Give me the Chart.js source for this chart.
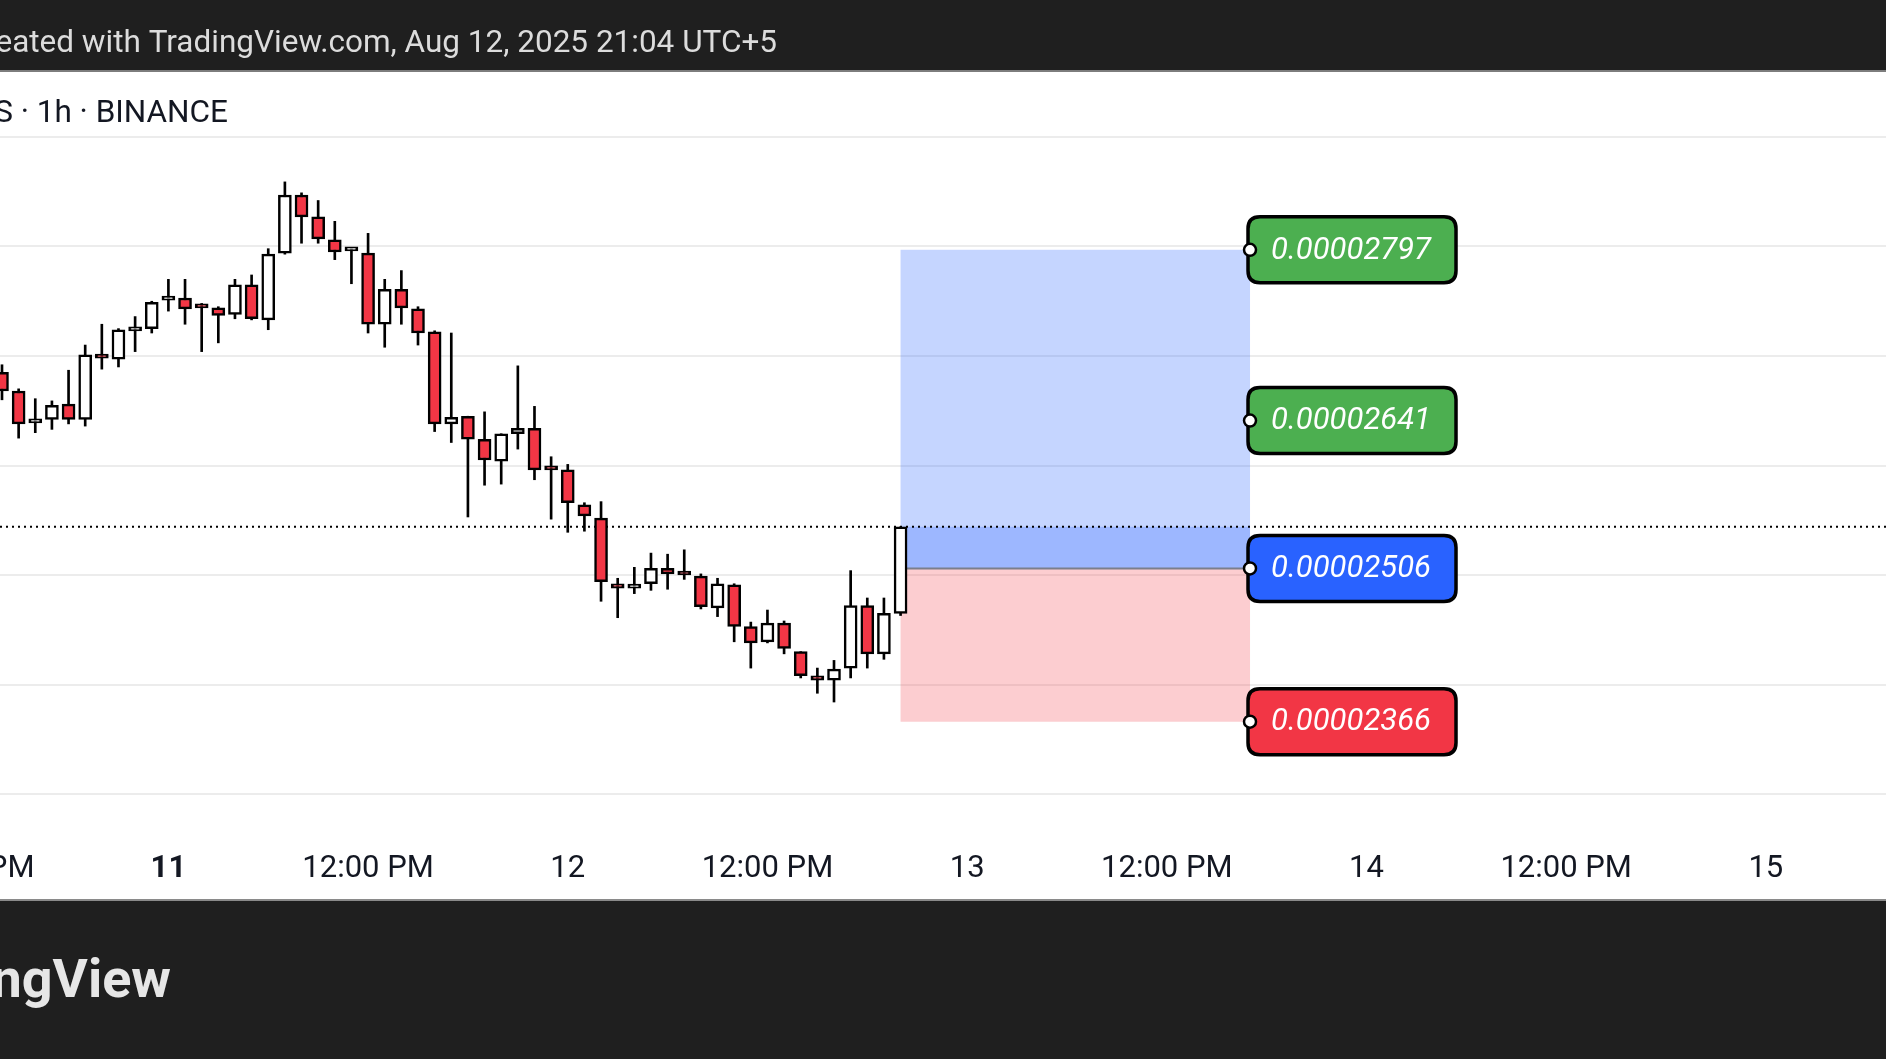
<!DOCTYPE html>
<html>
<head>
<meta charset="utf-8">
<script src="https://cdn.jsdelivr.net/npm/chart.js@4.4.1/dist/chart.umd.min.js"></script>
<style>
  html, body { margin: 0; padding: 0; background: #fff; overflow: hidden; }
  #wrap { width: 1886px; height: 1059px; }
</style>
</head>
<body>
<div id="wrap"><canvas id="chart" width="1886" height="1059"></canvas></div>
<script>
// prices are in units of 0.00000001, hours are counted from Aug 11 00:00
const firstCandleHour = -10; // Aug 10 14:00, one candle per hour
const opens  = [2685, 2668, 2639, 2642, 2656, 2642, 2701, 2697, 2723, 2725,
                2751, 2753, 2745, 2744, 2738, 2765, 2733, 2794, 2847, 2827,
                2806, 2796, 2794, 2729, 2761, 2743, 2722, 2638, 2645, 2624,
                2604, 2629, 2634, 2597, 2596, 2564, 2552, 2492, 2488, 2492,
                2506, 2501, 2499, 2470, 2491, 2453, 2439, 2456, 2430, 2408,
                2404, 2415, 2472, 2428, 2465];
const highs  = [2692, 2670, 2661, 2659, 2687, 2710, 2729, 2725, 2736, 2750,
                2770, 2770, 2748, 2745, 2770, 2774, 2798, 2859, 2849, 2842,
                2823, 2798, 2812, 2770, 2778, 2745, 2723, 2721, 2645, 2649,
                2629, 2691, 2654, 2608, 2601, 2566, 2567, 2497, 2507, 2520,
                2519, 2523, 2501, 2497, 2492, 2457, 2468, 2458, 2430, 2415,
                2422, 2504, 2479, 2479, 2544];
const lows   = [2660, 2625, 2630, 2633, 2638, 2636, 2688, 2690, 2704, 2721,
                2741, 2729, 2704, 2712, 2734, 2733, 2724, 2793, 2803, 2803,
                2788, 2766, 2721, 2708, 2729, 2710, 2631, 2621, 2553, 2582,
                2583, 2615, 2587, 2551, 2539, 2540, 2476, 2461, 2483, 2486,
                2487, 2496, 2469, 2462, 2439, 2415, 2438, 2428, 2406, 2392,
                2384, 2406, 2415, 2423, 2463];
const closes = [2668, 2638, 2641, 2655, 2642, 2701, 2698, 2724, 2725, 2749,
                2752, 2743, 2744, 2737, 2765, 2734, 2793, 2847, 2827, 2807,
                2795, 2796, 2729, 2761, 2744, 2721, 2638, 2644, 2624, 2605,
                2629, 2634, 2596, 2596, 2566, 2554, 2494, 2488, 2490, 2506,
                2501, 2500, 2471, 2492, 2453, 2438, 2456, 2433, 2408, 2404,
                2414, 2472, 2428, 2465, 2544];

const tickHours  = [-12, 0, 12, 24, 36, 48, 60, 72, 84, 96];
const tickLabels = ['12:00 PM', '11', '12:00 PM', '12', '12:00 PM', '13', '12:00 PM', '14', '12:00 PM', '15'];
const boldTickLabels = ['11'];

const lastPrice = 2544;
const entryPrice = 2506;
const stopPrice = 2366;
const targetPrices = [2797, 2641];
const positionHours = [44, 65];

const headerText = 'Created with TradingView.com, Aug 12, 2025 21:04 UTC+5';
const titleText = 'TetherUS · 1h · BINANCE';
const logoText = 'TradingView';

const W = 1886, H = 1059;
const UP = '#ffffff', DOWN = '#f23645';

function priceText(p) {
  return (p / 1e8).toFixed(8);
}

function roundRect(c, x, y, w, h, r) {
  c.beginPath();
  c.moveTo(x + r, y);
  c.lineTo(x + w - r, y);
  c.quadraticCurveTo(x + w, y, x + w, y + r);
  c.lineTo(x + w, y + h - r);
  c.quadraticCurveTo(x + w, y + h, x + w - r, y + h);
  c.lineTo(x + r, y + h);
  c.quadraticCurveTo(x, y + h, x, y + h - r);
  c.lineTo(x, y + r);
  c.quadraticCurveTo(x, y, x + r, y);
  c.closePath();
}

const tvPlugin = {
  id: 'tv',
  beforeDraw(chart) {
    const c = chart.ctx;
    c.save();
    c.fillStyle = '#ffffff';
    c.fillRect(0, 0, W, H);
    c.restore();
  },
  // position zones and the last price line sit under the candles
  beforeDatasetsDraw(chart) {
    const c = chart.ctx, xs = chart.scales.x, ys = chart.scales.y;
    const x0 = xs.getPixelForValue(positionHours[0]);
    const x1 = xs.getPixelForValue(positionHours[1]);
    const yTop = ys.getPixelForValue(Math.max(...targetPrices));
    const yEntry = ys.getPixelForValue(entryPrice);
    const yStop = ys.getPixelForValue(stopPrice);
    const yLast = ys.getPixelForValue(lastPrice);
    c.save();
    c.fillStyle = 'rgba(41, 98, 255, 0.27)';
    c.fillRect(x0, yTop, x1 - x0, yEntry - yTop);
    c.fillStyle = 'rgba(41, 98, 255, 0.26)';
    c.fillRect(x0, yLast, x1 - x0, yEntry - yLast);
    c.fillStyle = 'rgba(242, 54, 69, 0.25)';
    c.fillRect(x0, yEntry, x1 - x0, yStop - yEntry);
    c.strokeStyle = '#7b7f8c';
    c.lineWidth = 2;
    c.beginPath();
    c.moveTo(x0, yEntry);
    c.lineTo(x1, yEntry);
    c.stroke();
    c.strokeStyle = '#000000';
    c.lineWidth = 2;
    c.setLineDash([2, 4]);
    c.beginPath();
    c.moveTo(0, yLast);
    c.lineTo(W, yLast);
    c.stroke();
    c.restore();
  },
  afterDraw(chart) {
    const c = chart.ctx, xs = chart.scales.x, ys = chart.scales.y;
    c.save();

    // header bar
    c.fillStyle = '#1f1f1f';
    c.fillRect(0, 0, W, 71);
    c.fillStyle = '#7d7d7d';
    c.fillRect(0, 70, W, 2);
    c.fillStyle = '#dcdcdc';
    c.font = '31.5px Roboto';
    c.textAlign = 'right';
    c.textBaseline = 'alphabetic';
    c.fillText(headerText, 777, 52);

    // symbol line
    c.fillStyle = '#131722';
    c.font = '31.5px Roboto';
    c.fillText(titleText, 228, 122);

    // time axis labels
    c.textAlign = 'center';
    c.textBaseline = 'middle';
    tickHours.forEach((h, i) => {
      const bold = boldTickLabels.includes(tickLabels[i]);
      c.font = (bold ? 'bold ' : '') + '31px Roboto';
      c.fillText(tickLabels[i], xs.getPixelForValue(h), 869);
    });

    // footer bar
    c.fillStyle = '#1f1f1f';
    c.fillRect(0, 900, W, H - 900);
    c.fillStyle = '#8a8a8a';
    c.fillRect(0, 899, W, 2);
    c.fillStyle = '#e6e6e6';
    c.font = 'bold 54px Roboto';
    c.textAlign = 'right';
    c.textBaseline = 'alphabetic';
    c.fillText(logoText, 171, 997);

    // price labels of the position tool
    const xR = xs.getPixelForValue(positionHours[1]);
    const labels = [
      { p: targetPrices[0], color: '#4caf50' },
      { p: targetPrices[1], color: '#4caf50' },
      { p: entryPrice, color: '#2962ff' },
      { p: stopPrice, color: '#f23645' }
    ];
    labels.forEach(l => {
      const y = ys.getPixelForValue(l.p);
      roundRect(c, xR - 2, y - 33, 208, 66, 12);
      c.fillStyle = l.color;
      c.fill();
      c.lineWidth = 3.5;
      c.strokeStyle = '#000000';
      c.stroke();
      c.fillStyle = '#ffffff';
      c.font = 'italic 31px Roboto';
      c.textAlign = 'left';
      c.textBaseline = 'middle';
      c.fillText(priceText(l.p), xR + 21, y + 1);
      c.beginPath();
      c.arc(xR, y, 6, 0, Math.PI * 2);
      c.fillStyle = '#ffffff';
      c.fill();
      c.lineWidth = 2.5;
      c.strokeStyle = '#000000';
      c.stroke();
    });
    c.restore();
  }
};

const candleX = opens.map((_, i) => firstCandleHour + i);
const wickData = candleX.map((x, i) => ({ x: x, y: [lows[i], highs[i]] }));
const bodyData = candleX.map((x, i) => ({ x: x, y: [opens[i], closes[i]] }));
const bodyColors = opens.map((o, i) => closes[i] >= o ? UP : DOWN);

new Chart(document.getElementById('chart').getContext('2d'), {
  type: 'bar',
  data: {
    datasets: [
      {
        label: 'body',
        data: bodyData,
        backgroundColor: bodyColors,
        borderColor: '#000000',
        borderWidth: 2.5,
        borderSkipped: false,
        barThickness: 13,
        minBarLength: 4,
        grouped: false,
        order: 1
      },
      {
        label: 'wick',
        data: wickData,
        backgroundColor: '#000000',
        borderWidth: 0,
        barThickness: 2,
        grouped: false,
        order: 2
      }
    ]
  },
  options: {
    responsive: false,
    animation: false,
    devicePixelRatio: 1,
    layout: { padding: { top: 137, bottom: 265, left: 0, right: 0 } },
    plugins: { legend: { display: false }, tooltip: { enabled: false } },
    scales: {
      x: { type: 'linear', display: false, min: -10.12, max: 103.22, offset: false },
      y: {
        position: 'right',
        min: 2300,
        max: 2900,
        ticks: { display: false, stepSize: 100 },
        grid: { color: '#ececec', lineWidth: 2, drawTicks: false },
        border: { display: false }
      }
    }
  },
  plugins: [tvPlugin]
});
</script>
</body>
</html>
